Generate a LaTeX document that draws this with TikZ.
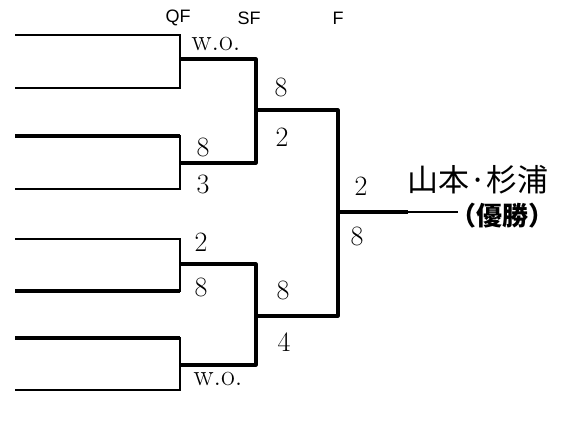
\documentclass[tikz,border=0pt]{standalone}
\usepackage{fontspec}
\newfontfamily\jpfont{Noto Sans CJK JP}
\newfontfamily\headfont{Liberation Sans}

\begin{document}
\begin{tikzpicture}[
    x=1pt, y=-1pt,
    entry/.style={draw, line width=2.4pt},
    win/.style={draw, line width=3.6pt},
    line/.style={draw, line width=3.2pt, line join=round},
    rnd/.style={font=\headfont\fontsize{18}{18}\selectfont},
    score/.style={font=\fontsize{28}{28}\selectfont},
    wo/.style={font=\fontsize{30}{30}\selectfont}
]
    \useasboundingbox (0,0) rectangle (572,430);

    % Entries (left ends and QF corners)
    \coordinate (a1) at (15,35);   \coordinate (b1) at (180,35);
    \coordinate (a2) at (15,88);   \coordinate (b2) at (180,88);
    \coordinate (a3) at (15,136);  \coordinate (b3) at (180,136);
    \coordinate (a4) at (15,189);  \coordinate (b4) at (180,189);
    \coordinate (a5) at (15,239);  \coordinate (b5) at (180,239);
    \coordinate (a6) at (15,291);  \coordinate (b6) at (180,291);
    \coordinate (a7) at (15,338);  \coordinate (b7) at (180,338);
    \coordinate (a8) at (15,390);  \coordinate (b8) at (180,390);

    % QF outputs and SF corners
    \coordinate (q1) at (180,59);  \coordinate (s1) at (256,59);
    \coordinate (q2) at (180,163); \coordinate (s2) at (256,163);
    \coordinate (q3) at (180,264); \coordinate (s3) at (256,264);
    \coordinate (q4) at (180,365); \coordinate (s4) at (256,365);

    % SF outputs and F corners
    \coordinate (m1) at (256,110); \coordinate (f1) at (338,110);
    \coordinate (m2) at (256,316); \coordinate (f2) at (338,316);

    % Final output
    \coordinate (fo) at (338,212);
    \coordinate (fw) at (408,212);
    \coordinate (champ) at (458,212);

    % Round headers
    \node [rnd] (qf) at (178,18) {QF};
    \node [rnd] (sf) at (249,18) {SF};
    \node [rnd] (fin) at (338,18) {F};

    % Quarter-finals
    \path [entry] (a1) -- (b1) -- (b2) -- (a2);
    \path [entry] (a3) -- (b3) -- (b4) -- (a4);
    \path [entry] (a5) -- (b5) -- (b6) -- (a6);
    \path [entry] (a7) -- (b7) -- (b8) -- (a8);
    \path [win] (a3) -- (b3);
    \path [win] (a6) -- (b6);
    \path [win] (a7) -- (b7);

    % Semi-finals
    \path [line] (q1) -- (s1) -- (s2) -- (q2);
    \path [line] (q3) -- (s3) -- (s4) -- (q4);

    % Final
    \path [line] (m1) -- (f1) -- (f2) -- (m2);
    \path [win] (fo) -- (fw);
    \path [entry] (fw) -- (champ);

    % Scores
    \node [wo] (wo1) at (216,44) {w.o.};
    \node [score] (sc3) at (203,147) {8};
    \node [score] (sc4) at (203,184) {3};
    \node [score] (sc5) at (201,242) {2};
    \node [score] (sc6) at (201,287) {8};
    \node [wo] (wo8) at (218,379) {w.o.};

    \node [score] (ss1) at (281,87) {8};
    \node [score] (ss2) at (282,137) {2};
    \node [score] (ss3) at (283,290) {8};
    \node [score] (ss4) at (284,342) {4};

    \node [score] (sf1) at (361,186) {2};
    \node [score] (sf2) at (357,236) {8};

    % Champion
    \node [font=\jpfont\fontsize{31}{31}\selectfont, anchor=west] (name) at (404,180) {山本·杉浦};
    \node [font=\jpfont\bfseries\fontsize{26}{26}\selectfont] (yusho) at (502,216) {（優勝）};

\end{tikzpicture}
\end{document}
